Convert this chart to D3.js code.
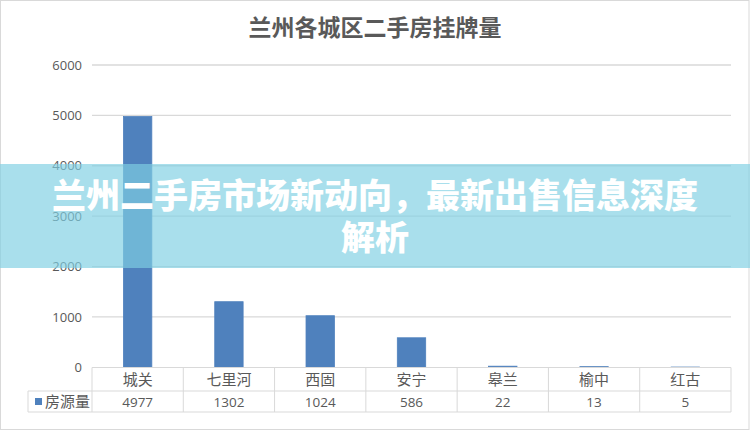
<!DOCTYPE html>
<html><head><meta charset="utf-8">
<script src="https://cdn.jsdelivr.net/npm/d3@7"></script>
<style>html,body{margin:0;padding:0;background:#fff;}svg{display:block;}</style>
</head><body>
<script>
const title = "兰州各城区二手房挂牌量";
const categories = ["城关","七里河","西固","安宁","皋兰","榆中","红古"];
const seriesName = "房源量";
const values = [4977,1302,1024,586,22,13,5];
const yTicks = [0,1000,2000,3000,4000,5000,6000];
const bannerLines = ["兰州二手房市场新动向，最新出售信息深度","解析"];

const W=750,H=433;
const svg=d3.select("body").append("svg").attr("width",W).attr("height",H);
const font="'Noto Sans CJK SC','Noto Sans',sans-serif";
const txt="#595959", grid="#d9d9d9", barC="#4f81bd";

svg.append("rect").attr("x",0.5).attr("y",0.5).attr("width",W-1.5).attr("height",H-4).attr("fill","#fff").attr("stroke","#d9d9d9");

svg.append("text").attr("x",375).attr("y",36).attr("text-anchor","middle")
  .attr("font-family",font).attr("font-weight",700).attr("font-size",23).attr("fill",txt).text(title);

const x0=92,x1=731,y0=367.3,yTop=65;
const x=d3.scaleBand().domain(categories).range([x0,x1]).paddingInner(0.689).paddingOuter(0.3445);
const band=d3.scaleBand().domain(categories).range([x0,x1]);
const y=d3.scaleLinear().domain([0,6000]).range([y0,yTop]);

const g=svg.append("g");
g.selectAll("line.grid").data(yTicks.filter(d=>d>0)).join("line")
  .attr("x1",x0).attr("x2",x1).attr("y1",d=>y(d)).attr("y2",d=>y(d))
  .attr("stroke",grid).attr("stroke-width",1.3);

const yAxis=d3.axisLeft(y).tickValues(yTicks).tickSize(0).tickPadding(10).tickFormat(d3.format("d"));
const ya=svg.append("g").attr("transform",`translate(${x0},0)`).call(yAxis);
ya.select(".domain").remove();
ya.selectAll("text").attr("font-family","'Open Sans',sans-serif").attr("font-size",13).attr("fill",txt);

g.selectAll("rect.bar").data(values).join("rect")
  .attr("x",(d,i)=>x(categories[i])).attr("width",x.bandwidth())
  .attr("y",d=>y(d)).attr("height",d=>y0-y(d)).attr("fill",barC)
  .attr("stroke",barC).attr("stroke-width",0.8);

// data table
const r0=367.5,r1=391,r2=412,lx=28;
const t=svg.append("g").attr("stroke","#d9d9d9").attr("stroke-width",1).attr("fill","none");
t.append("line").attr("x1",x0).attr("x2",x1).attr("y1",r0).attr("y2",r0);
t.append("line").attr("x1",lx).attr("x2",x1).attr("y1",r1).attr("y2",r1);
t.append("line").attr("x1",lx).attr("x2",x1).attr("y1",r2).attr("y2",r2);
t.append("line").attr("x1",lx).attr("x2",lx).attr("y1",r1).attr("y2",r2);
t.selectAll("line.v").data(categories.concat(["_end"])).join("line")
  .attr("x1",(d,i)=>x0+i*band.step()).attr("x2",(d,i)=>x0+i*band.step())
  .attr("y1",r0).attr("y2",r2);
svg.selectAll("text.cat").data(categories).join("text")
  .attr("x",d=>band(d)+band.bandwidth()/2).attr("y",385).attr("text-anchor","middle")
  .attr("font-family",font).attr("font-size",15).attr("fill",txt).text(d=>d);
svg.selectAll("text.val").data(values).join("text")
  .attr("x",(d,i)=>band(categories[i])+band.bandwidth()/2).attr("y",407).attr("text-anchor","middle")
  .attr("font-family","'Open Sans',sans-serif").attr("font-size",13.5).attr("fill",txt).text(d=>d);
svg.append("rect").attr("x",35).attr("y",398).attr("width",7).attr("height",7).attr("fill",barC);
svg.append("text").attr("x",45).attr("y",407).attr("font-family",font).attr("font-size",15).attr("fill",txt).text(seriesName);

// banner overlay
svg.append("rect").attr("x",0).attr("y",164).attr("width",W).attr("height",104).attr("fill","rgb(127,207,226)").attr("fill-opacity",0.67);
svg.selectAll("text.ban").data(bannerLines).join("text")
  .attr("x",375).attr("y",(d,i)=>208+i*42).attr("text-anchor","middle")
  .attr("font-family",font).attr("font-weight",900).attr("font-size",34).attr("fill","#fff").text(d=>d);
</script>
</body></html>
